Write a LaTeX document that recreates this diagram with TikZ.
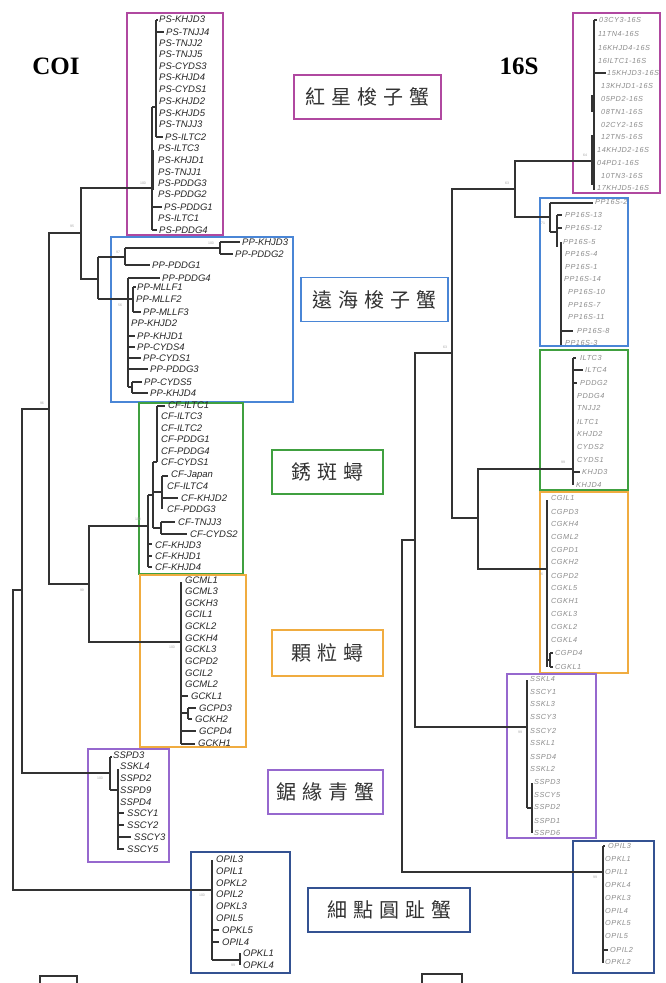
\documentclass[tikz,border=0pt]{standalone}
\usepackage{fontspec}
\setmainfont{Liberation Serif}
\newfontfamily\labf{Liberation Sans}
\newfontfamily\labs[LetterSpace=7]{Liberation Sans}
\newfontfamily\cjk{Noto Sans CJK TC}
\definecolor{cMag}{RGB}{176,72,160}
\definecolor{cBlu}{RGB}{74,134,214}
\definecolor{cGrn}{RGB}{64,160,64}
\definecolor{cOrg}{RGB}{240,172,64}
\definecolor{cPur}{RGB}{150,104,206}
\definecolor{cNav}{RGB}{52,82,146}
\newcommand{\cjkgap}{\hspace{6pt}}
\newcommand{\lc}[3]{\node[coi] (c-#3) at (#1,#2) {#3};}
\newcommand{\lr}[3]{\node[rs] (r-#3) at (#1,#2) {#3};}
\newcommand{\bvv}[4]{\node[bv] (#1) at (#2,#3) {#4};}
\tikzset{
 tl/.style={line width=1.1pt, draw=black!80},
 coi/.style={font=\labf\itshape\fontsize{9.5}{10}\selectfont, anchor=west, inner sep=0pt, text=black!85},
 rs/.style={font=\labs\itshape\fontsize{7.3}{8}\selectfont, anchor=west, inner sep=0pt, text=black!45},
 bv/.style={font=\labf\fontsize{3.5}{4}\selectfont, text=black!35, inner sep=0pt},
 cbox/.style={line width=1.3pt},
 sptag/.style={draw, line width=1.4pt, minimum height=44pt, inner sep=0pt, font=\cjk\fontsize{20}{22}\selectfont, text=black!80},
 ttl/.style={font=\bfseries\fontsize{25}{28}\selectfont, inner sep=0pt}
}
\begin{document}
\begin{tikzpicture}[x=1pt,y=-1pt]
\useasboundingbox (0,0) rectangle (666,983);
\fill[white] (0,0) rectangle (666,983);

% titles
\node[ttl] (tCOI) at (56,66) {COI};
\node[ttl] (t16S) at (519,66) {16S};

% species tags
\node[sptag, draw=cMag, minimum width=147pt] (gA) at (367.5,97) {紅\cjkgap 星\cjkgap 梭\cjkgap 子\cjkgap 蟹};
\node[sptag, draw=cBlu, minimum width=147pt] (gB) at (374.5,299.5) {遠\cjkgap 海\cjkgap 梭\cjkgap 子\cjkgap 蟹};
\node[sptag, draw=cGrn, minimum width=111pt] (gC) at (327.5,472) {銹\cjkgap 斑\cjkgap 蟳};
\node[sptag, draw=cOrg, minimum width=111pt, minimum height=46pt] (gD) at (327.5,653) {顆\cjkgap 粒\cjkgap 蟳};
\node[sptag, draw=cPur, minimum width=115pt] (gE) at (325.5,792) {鋸\cjkgap 緣\cjkgap 青\cjkgap 蟹};
\node[sptag, draw=cNav, minimum width=162pt] (gF) at (389,910) {細\cjkgap 點\cjkgap 圓\cjkgap 趾\cjkgap 蟹};

% ===== COI clade boxes =====
\draw[cbox, cMag] (127,13) rectangle (223,235);
\draw[cbox, cBlu] (111,237) rectangle (293,402);
\draw[cbox, cGrn] (139,403) rectangle (243,574);
\draw[cbox, cOrg] (140,575) rectangle (246,747);
\draw[cbox, cPur] (88,749) rectangle (169,862);
\draw[cbox, cNav] (191,852) rectangle (290,973);

% ===== COI backbone =====
\draw[tl] (22,590) -| (13,890) -- (212,890);
\draw[tl] (49,409) -| (22,773) -- (110,773);
\draw[tl] (81,233) -| (49,584) -- (89,584);
\draw[tl] (152,188) -| (81,279) -- (98,279);
\draw[tl] (148,526) -| (89,642) -- (181,642);

% PS clade
\draw[tl] (152,107) -- (152,230);
\draw[tl] (152,107) -- (156,107);
\draw[tl] (156,20) -- (156,137);
\draw[tl] (156,20) -- (158,20);
\draw[tl] (156,32) -- (164,32);
\draw[tl] (156,137) -- (163,137);
\draw[tl] (152,207) -- (162,207);
\draw[tl] (152,230) -- (157,230);
\draw[tl] (153,150) -- (153,190);
\lc{159}{19}{PS-KHJD3}
\lc{166}{32}{PS-TNJJ4}
\lc{159}{43}{PS-TNJJ2}
\lc{159}{54}{PS-TNJJ5}
\lc{159}{66}{PS-CYDS3}
\lc{159}{77}{PS-KHJD4}
\lc{159}{89}{PS-CYDS1}
\lc{159}{101}{PS-KHJD2}
\lc{159}{113}{PS-KHJD5}
\lc{159}{124}{PS-TNJJ3}
\lc{165}{137}{PS-ILTC2}
\lc{158}{148}{PS-ILTC3}
\lc{158}{160}{PS-KHJD1}
\lc{158}{172}{PS-TNJJ1}
\lc{158}{183}{PS-PDDG3}
\lc{158}{194}{PS-PDDG2}
\lc{164}{207}{PS-PDDG1}
\lc{158}{218}{PS-ILTC1}
\lc{159}{230}{PS-PDDG4}

% PP clade
\draw[tl] (98,257) -- (98,299);
\draw[tl] (98,257) -- (125,257);
\draw[tl] (125,248) -- (125,265);
\draw[tl] (125,248) -- (220,248);
\draw[tl] (220,242) -- (220,254);
\draw[tl] (220,242) -- (240,242);
\draw[tl] (220,254) -- (233,254);
\draw[tl] (125,265) -- (150,265);
\draw[tl] (98,299) -- (128,299);
\draw[tl] (128,278) -- (128,387);
\draw[tl] (128,278) -- (160,278);
\draw[tl] (128,299) -- (133,299);
\draw[tl] (133,287) -- (133,312);
\draw[tl] (133,287) -- (136,287);
\draw[tl] (133,312) -- (141,312);
\draw[tl] (128,336) -- (135,336);
\draw[tl] (128,347) -- (135,347);
\draw[tl] (128,358) -- (141,358);
\draw[tl] (128,369) -- (148,369);
\draw[tl] (128,387) -- (132,387);
\draw[tl] (132,382) -- (132,393);
\draw[tl] (132,382) -- (142,382);
\draw[tl] (132,393) -- (148,393);
\lc{242}{242}{PP-KHJD3}
\lc{235}{254}{PP-PDDG2}
\lc{152}{265}{PP-PDDG1}
\lc{162}{278}{PP-PDDG4}
\lc{137}{287}{PP-MLLF1}
\lc{136}{299}{PP-MLLF2}
\lc{143}{312}{PP-MLLF3}
\lc{131}{323}{PP-KHJD2}
\lc{137}{336}{PP-KHJD1}
\lc{137}{347}{PP-CYDS4}
\lc{143}{358}{PP-CYDS1}
\lc{150}{369}{PP-PDDG3}
\lc{144}{382}{PP-CYDS5}
\lc{150}{393}{PP-KHJD4}

% CF clade
\draw[tl] (148,495) -- (148,567);
\draw[tl] (148,495) -- (153,495);
\draw[tl] (148,544) -- (152,544);
\draw[tl] (148,556) -- (152,556);
\draw[tl] (148,567) -- (152,567);
\draw[tl] (153,462) -- (153,528);
\draw[tl] (153,462) -- (157,462);
\draw[tl] (157,406) -- (157,462);
\draw[tl] (157,406) -- (165,406);
\draw[tl] (153,492) -- (162,492);
\draw[tl] (162,476) -- (162,509);
\draw[tl] (162,476) -- (168,476);
\draw[tl] (162,498) -- (178,498);
\draw[tl] (153,528) -- (161,528);
\draw[tl] (161,522) -- (161,534);
\draw[tl] (161,522) -- (175,522);
\draw[tl] (161,534) -- (187,534);
\lc{168}{405}{CF-ILTC1}
\lc{161}{416}{CF-ILTC3}
\lc{161}{428}{CF-ILTC2}
\lc{161}{439}{CF-PDDG1}
\lc{161}{451}{CF-PDDG4}
\lc{161}{462}{CF-CYDS1}
\lc{171}{475}{CF-Japan}
\lc{167}{486}{CF-ILTC4}
\lc{181}{498}{CF-KHJD2}
\lc{167}{509}{CF-PDDG3}
\lc{178}{522}{CF-TNJJ3}
\lc{190}{534}{CF-CYDS2}
\lc{155}{545}{CF-KHJD3}
\lc{155}{556}{CF-KHJD1}
\lc{155}{567}{CF-KHJD4}

% GC clade
\draw[tl] (181,582) -- (181,744);
\draw[tl] (181,696) -- (188,696);
\draw[tl] (181,713) -- (188,713);
\draw[tl] (188,708) -- (188,719);
\draw[tl] (188,708) -- (196,708);
\draw[tl] (188,719) -- (192,719);
\draw[tl] (181,731) -- (196,731);
\draw[tl] (181,744) -- (195,744);
\lc{185}{580}{GCML1}
\lc{185}{591}{GCML3}
\lc{185}{603}{GCKH3}
\lc{185}{614}{GCIL1}
\lc{185}{626}{GCKL2}
\lc{185}{638}{GCKH4}
\lc{185}{649}{GCKL3}
\lc{185}{661}{GCPD2}
\lc{185}{673}{GCIL2}
\lc{185}{684}{GCML2}
\lc{191}{696}{GCKL1}
\lc{199}{708}{GCPD3}
\lc{195}{719}{GCKH2}
\lc{199}{731}{GCPD4}
\lc{198}{743}{GCKH1}

% SS clade
\draw[tl] (110,757) -- (110,790);
\draw[tl] (110,757) -- (112,757);
\draw[tl] (110,790) -- (118,790);
\draw[tl] (118,769) -- (118,850);
\draw[tl] (118,813) -- (124,813);
\draw[tl] (118,825) -- (124,825);
\draw[tl] (118,837) -- (131,837);
\draw[tl] (118,849) -- (124,849);
\lc{113}{755}{SSPD3}
\lc{120}{766}{SSKL4}
\lc{120}{778}{SSPD2}
\lc{120}{790}{SSPD9}
\lc{120}{802}{SSPD4}
\lc{127}{813}{SSCY1}
\lc{127}{825}{SSCY2}
\lc{134}{837}{SSCY3}
\lc{127}{849}{SSCY5}

% OP clade
\draw[tl] (212,860) -- (212,960);
\draw[tl] (212,930) -- (219,930);
\draw[tl] (212,942) -- (219,942);
\draw[tl] (212,960) -- (240,960);
\draw[tl] (240,953) -- (240,965);
\draw[tl] (212,918) -- (212,930);
\lc{216}{859}{OPIL3}
\lc{216}{871}{OPIL1}
\lc{216}{883}{OPKL2}
\lc{216}{894}{OPIL2}
\lc{216}{906}{OPKL3}
\lc{216}{918}{OPIL5}
\lc{222}{930}{OPKL5}
\lc{222}{942}{OPIL4}
\lc{243}{953}{OPKL1}
\lc{243}{965}{OPKL4}

% scale bars
\draw[tl] (40,983) -- (40,976) -- (77,976) -- (77,983);
\draw[tl] (422,983) -- (422,974) -- (462,974) -- (462,983);

% COI bootstrap values
\bvv{b1}{143}{183}{100}
\bvv{b2}{72}{226}{95}
\bvv{b3}{118}{252}{97}
\bvv{b4}{211}{243}{100}
\bvv{b5}{120}{305}{56}
\bvv{b6}{42}{403}{96}
\bvv{b7}{138}{519}{100}
\bvv{b8}{82}{590}{99}
\bvv{b9}{172}{647}{100}
\bvv{b10}{100}{778}{100}
\bvv{b11}{202}{895}{100}
\bvv{b12}{233}{965}{99}

% ===== 16S clade boxes =====
\draw[cbox, cMag] (573,13) rectangle (660,193);
\draw[cbox, cBlu] (540,198) rectangle (628,346);
\draw[cbox, cGrn] (540,350) rectangle (628,490);
\draw[cbox, cOrg] (540,492) rectangle (628,673);
\draw[cbox, cPur] (507,674) rectangle (596,838);
\draw[cbox, cNav] (573,841) rectangle (654,973);

% ===== 16S backbone =====
\draw[tl] (415,540) -| (402,872) -- (603,872);
\draw[tl] (452,353) -| (415,727) -- (527,727);
\draw[tl] (515,189) -| (452,518) -- (478,518);
\draw[tl] (594,161) -| (515,217) -- (550,217);
\draw[tl] (573,469) -| (478,569) -- (547,569);

% 16S PS clade
\draw[tl] (594,20) -- (594,190);
\draw[tl] (594,20) -- (597,20);
\draw[tl] (594,73) -- (606,73);
\draw[tl] (592,95) -- (592,112);
\draw[tl] (592,135) -- (592,185);
\lr{599}{20}{03CY3-16S}
\lr{598}{34}{11TN4-16S}
\lr{598}{48}{16KHJD4-16S}
\lr{598}{61}{16ILTC1-16S}
\lr{607}{73}{15KHJD3-16S}
\lr{601}{86}{13KHJD1-16S}
\lr{601}{99}{05PD2-16S}
\lr{601}{112}{08TN1-16S}
\lr{601}{125}{02CY2-16S}
\lr{601}{137}{12TN5-16S}
\lr{597}{150}{14KHJD2-16S}
\lr{597}{163}{04PD1-16S}
\lr{601}{176}{10TN3-16S}
\lr{597}{188}{17KHJD5-16S}

% 16S PP clade
\draw[tl] (550,203) -- (550,232);
\draw[tl] (550,203) -- (593,203);
\draw[tl] (550,232) -- (557,232);
\draw[tl] (557,215) -- (557,247);
\draw[tl] (557,215) -- (562,215);
\draw[tl] (557,228) -- (562,228);
\draw[tl] (561,242) -- (561,345);
\draw[tl] (561,331) -- (573,331);
\lr{595}{202}{PP16S-2}
\lr{565}{215}{PP16S-13}
\lr{565}{228}{PP16S-12}
\lr{563}{242}{PP16S-5}
\lr{565}{254}{PP16S-4}
\lr{565}{267}{PP16S-1}
\lr{564}{279}{PP16S-14}
\lr{568}{292}{PP16S-10}
\lr{568}{305}{PP16S-7}
\lr{568}{317}{PP16S-11}
\lr{577}{331}{PP16S-8}
\lr{565}{343}{PP16S-3}

% 16S green clade
\draw[tl] (573,358) -- (573,485);
\draw[tl] (573,358) -- (576,358);
\draw[tl] (573,370) -- (583,370);
\draw[tl] (573,383) -- (577,383);
\draw[tl] (573,472) -- (580,472);
\lr{580}{358}{ILTC3}
\lr{585}{370}{ILTC4}
\lr{580}{383}{PDDG2}
\lr{577}{396}{PDDG4}
\lr{577}{408}{TNJJ2}
\lr{577}{422}{ILTC1}
\lr{577}{434}{KHJD2}
\lr{577}{447}{CYDS2}
\lr{577}{460}{CYDS1}
\lr{582}{472}{KHJD3}
\lr{576}{485}{KHJD4}

% 16S orange clade
\draw[tl] (547,500) -- (547,667);
\draw[tl] (547,660) -- (550,660);
\draw[tl] (550,653) -- (550,667);
\draw[tl] (550,653) -- (553,653);
\draw[tl] (550,667) -- (553,667);
\lr{551}{498}{CGIL1}
\lr{551}{512}{CGPD3}
\lr{551}{524}{CGKH4}
\lr{551}{537}{CGML2}
\lr{551}{550}{CGPD1}
\lr{551}{562}{CGKH2}
\lr{551}{576}{CGPD2}
\lr{551}{588}{CGKL5}
\lr{551}{601}{CGKH1}
\lr{551}{614}{CGKL3}
\lr{551}{627}{CGKL2}
\lr{551}{640}{CGKL4}
\lr{555}{653}{CGPD4}
\lr{555}{667}{CGKL1}

% 16S purple clade
\draw[tl] (527,680) -- (527,808);
\draw[tl] (527,808) -- (532,808);
\draw[tl] (532,783) -- (532,833);
\lr{530}{679}{SSKL4}
\lr{530}{692}{SSCY1}
\lr{530}{704}{SSKL3}
\lr{530}{717}{SSCY3}
\lr{530}{731}{SSCY2}
\lr{530}{743}{SSKL1}
\lr{530}{757}{SSPD4}
\lr{530}{769}{SSKL2}
\lr{534}{782}{SSPD3}
\lr{534}{795}{SSCY5}
\lr{534}{807}{SSPD2}
\lr{534}{821}{SSPD1}
\lr{534}{833}{SSPD6}

% 16S OP clade
\draw[tl] (603,846) -- (603,963);
\draw[tl] (603,846) -- (605,846);
\draw[tl] (603,950) -- (608,950);
\lr{608}{846}{OPIL3}
\lr{605}{859}{OPKL1}
\lr{605}{872}{OPIL1}
\lr{605}{885}{OPKL4}
\lr{605}{898}{OPKL3}
\lr{605}{911}{OPIL4}
\lr{605}{923}{OPKL5}
\lr{605}{936}{OPIL5}
\lr{610}{950}{OPIL2}
\lr{605}{962}{OPKL2}

% 16S bootstrap values
\bvv{s1}{585}{155}{64}
\bvv{s2}{507}{183}{63}
\bvv{s3}{543}{223}{71}
\bvv{s4}{445}{347}{63}
\bvv{s5}{563}{462}{99}
\bvv{s6}{541}{574}{76}
\bvv{s7}{520}{732}{99}
\bvv{s8}{595}{877}{99}
\end{tikzpicture}
\end{document}
